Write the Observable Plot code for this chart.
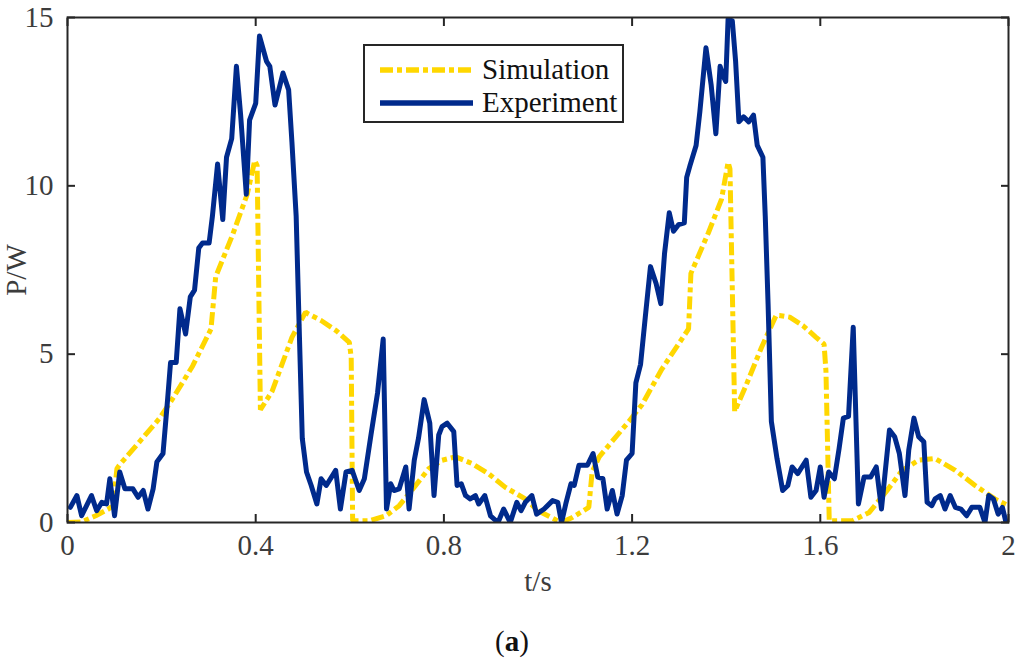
<!DOCTYPE html>
<html>
<head>
<meta charset="utf-8">
<script src="https://cdn.jsdelivr.net/npm/d3@7"></script>
<script src="https://cdn.jsdelivr.net/npm/@observablehq/plot@0.6"></script>
<style>
  body { margin: 0; background: white; }
  #wrap { position: relative; width: 1024px; height: 665px; font-family: "Liberation Serif", "Times New Roman", serif; }
  #chart svg, #chart svg text { font-family: "Liberation Serif", "Times New Roman", serif !important; }
  #legend {
    position: absolute; left: 363px; top: 44px; width: 257px; height: 75px;
    border: 2px solid #262626; background: white;
  }
  #legend svg { position: absolute; left: 0; top: 0; }
  #legend .lab { position: absolute; left: 117px; font-size: 29px; line-height: 29px; color: #111; }
  #caption { position: absolute; left: 0; top: 627px; width: 1024px; text-align: center; font-size: 29px; line-height: 29px; color: #111; }
</style>
</head>
<body>
<div id="wrap">
  <div id="chart"></div>
  <div id="legend">
    <svg width="257" height="75">
      <line x1="15" x2="108" y1="24" y2="24" stroke="#FFD700" stroke-width="5.5" stroke-dasharray="13 4 5 4"/>
      <line x1="15" x2="108" y1="57" y2="57" stroke="#002a8c" stroke-width="5.5"/>
    </svg>
    <div class="lab" style="top:9px">Simulation</div>
    <div class="lab" style="top:42px">Experiment</div>
  </div>
  <div id="caption">(<b>a</b>)</div>
</div>
<script>
// simulation curve (t in s, P in W)
const simT = [0, 0.03, 0.06, 0.087, 0.097, 0.105, 0.11, 0.15, 0.196, 0.22, 0.266, 0.305, 0.315, 0.351, 0.382, 0.398, 0.403, 0.41,
  0.435, 0.477, 0.506, 0.511, 0.539, 0.571, 0.599, 0.603, 0.606, 0.642, 0.677, 0.705, 0.737, 0.768, 0.796, 0.825, 0.86, 0.895,
  0.93, 0.973, 1.0, 1.049, 1.073, 1.108, 1.115, 1.13, 1.193, 1.221, 1.263, 1.32, 1.325, 1.362, 1.39, 1.404, 1.408, 1.418,
  1.44, 1.475, 1.506, 1.513, 1.535, 1.563, 1.591, 1.608, 1.612, 1.619, 1.668, 1.704, 1.739, 1.774, 1.809, 1.844, 1.887,
  1.929, 1.971, 2.0];
const simP = [0, 0.02, 0.2, 0.4, 0.5, 1.6, 1.7, 2.35, 3.1, 3.6, 4.65, 5.75, 7.3, 8.55, 9.75, 10.75, 10.6, 3.35,
  3.9, 5.5, 6.25, 6.2, 6.0, 5.7, 5.35, 4.9, 0.05, 0.05, 0.2, 0.5, 1.05, 1.6, 1.85, 1.95, 1.75, 1.45,
  1.05, 0.7, 0.35, 0, 0.15, 0.45, 1.5, 1.95, 3.0, 3.5, 4.55, 5.75, 7.4, 8.6, 9.6, 10.7, 10.5, 3.3,
  4.0, 5.2, 6.15, 6.15, 6.1, 5.85, 5.5, 5.3, 4.5, 0.05, 0.05, 0.3, 0.9, 1.55, 1.85, 1.9, 1.55,
  1.1, 0.7, 0.5];

// measured curve
const expT = [0.006, 0.02, 0.03, 0.051, 0.062, 0.073, 0.083, 0.09, 0.1, 0.111, 0.122, 0.139, 0.15, 0.161, 0.171, 0.182,
  0.19, 0.203, 0.213, 0.219, 0.231, 0.239, 0.251, 0.261, 0.27, 0.279, 0.287, 0.301, 0.308, 0.319, 0.33, 0.338,
  0.349, 0.359, 0.368, 0.38, 0.387, 0.4, 0.408, 0.423, 0.43, 0.441, 0.458, 0.47, 0.477, 0.486, 0.493, 0.499,
  0.508, 0.518, 0.53, 0.539, 0.55, 0.57, 0.58, 0.592, 0.605, 0.62, 0.631, 0.645, 0.659, 0.671, 0.678, 0.687,
  0.694, 0.705, 0.719, 0.726, 0.737, 0.746, 0.758, 0.77, 0.779, 0.789, 0.796, 0.807, 0.821, 0.828, 0.837, 0.846,
  0.856, 0.867, 0.874, 0.887, 0.899, 0.915, 0.927, 0.941, 0.955, 0.964, 0.973, 0.987, 0.997, 1.013, 1.031, 1.042,
  1.05, 1.059, 1.07, 1.077, 1.087, 1.105, 1.117, 1.127, 1.138, 1.147, 1.158, 1.168, 1.179, 1.188, 1.2, 1.208,
  1.218, 1.228, 1.239, 1.251, 1.261, 1.269, 1.279, 1.288, 1.299, 1.311, 1.316, 1.323, 1.336, 1.344, 1.357, 1.368,
  1.378, 1.387, 1.394, 1.399, 1.404, 1.413, 1.42, 1.427, 1.437, 1.448, 1.458, 1.466, 1.478, 1.483, 1.489, 1.496,
  1.508, 1.52, 1.531, 1.54, 1.552, 1.57, 1.58, 1.591, 1.6, 1.608, 1.618, 1.63, 1.64, 1.649, 1.66, 1.67,
  1.681, 1.693, 1.707, 1.719, 1.73, 1.739, 1.747, 1.758, 1.768, 1.78, 1.788, 1.799, 1.809, 1.82, 1.827, 1.837,
  1.844, 1.855, 1.865, 1.876, 1.887, 1.899, 1.911, 1.922, 1.939, 1.95, 1.958, 1.968, 1.978, 1.987, 1.994];
const expP = [0.45, 0.8, 0.2, 0.8, 0.35, 0.6, 0.55, 1.3, 0.2, 1.5, 1.0, 1.0, 0.75, 0.95, 0.4, 1.0,
  1.8, 2.05, 3.7, 4.75, 4.75, 6.35, 5.6, 6.7, 6.9, 8.15, 8.3, 8.3, 9.1, 10.65, 9.0, 10.85,
  11.4, 13.55, 12.1, 9.75, 11.95, 12.45, 14.45, 13.7, 13.55, 12.4, 13.35, 12.85, 11.3, 9.1, 5.5, 2.5,
  1.5, 1.1, 0.55, 1.3, 1.1, 1.55, 0.4, 1.5, 1.55, 0.95, 1.3, 2.6, 3.85, 5.45, 0.4, 1.15,
  0.95, 1.0, 1.65, 0.4, 1.85, 2.5, 3.65, 2.95, 0.8, 2.6, 2.85, 2.95, 2.7, 1.1, 1.15, 0.8,
  0.7, 0.8, 0.55, 0.8, 0.2, 0, 0.4, 0, 0.6, 0.35, 0.6, 0.8, 0.25, 0.4, 0.65, 0.6,
  0, 0.55, 1.15, 1.1, 1.7, 1.7, 2.05, 1.35, 1.3, 0.4, 0.95, 0.25, 0.8, 1.85, 2.05, 4.15,
  4.7, 6.1, 7.6, 7.1, 6.5, 8.0, 9.2, 8.65, 8.85, 8.9, 10.25, 10.6, 11.2, 12.2, 14.1, 13.0,
  11.55, 13.55, 13.25, 13.1, 14.95, 14.9, 13.7, 11.9, 12.05, 11.9, 12.1, 11.2, 10.85, 9.1, 6.5, 3.0,
  1.9, 0.95, 1.1, 1.65, 1.45, 1.85, 0.75, 0.95, 1.65, 0.75, 1.5, 1.3, 2.2, 3.1, 3.15, 5.8,
  0.55, 1.35, 1.35, 1.65, 0.4, 1.65, 2.75, 2.55, 2.05, 0.8, 2.15, 3.1, 2.55, 2.4, 0.6, 0.5,
  0.7, 0.8, 0.4, 0.8, 0.45, 0.4, 0.2, 0.45, 0.45, 0, 0.8, 0.7, 0.25, 0.45, 0.05];

const xTicks = [0, 0.4, 0.8, 1.2, 1.6, 2];
const yTicks = [0, 5, 10, 15];

const sim = simT.map((t, i) => ({t, p: simP[i]}));
const exp = expT.map((t, i) => ({t, p: expP[i]}));

const frameColor = "#262626";
const labelColor = "#3c3c3c";

let chart = Plot.plot({
  width: 1024,
  height: 600,
  marginTop: 17,
  marginLeft: 67,
  marginRight: 16,
  marginBottom: 78,
  style: {fontFamily: "'Liberation Serif', serif", fontSize: "29px", background: "white"},
  x: {domain: [0, 2]},
  y: {domain: [0, 15]},
  marks: [
    Plot.line(sim, {x: "t", y: "p", stroke: "#FFD700", strokeWidth: 5, strokeDasharray: "13 4 5 4",
      strokeLinecap: "butt", strokeLinejoin: "miter", clip: true}),
    Plot.line(exp, {x: "t", y: "p", stroke: "#002a8c", strokeWidth: 5, clip: true}),
    Plot.frame({stroke: frameColor, strokeWidth: 2}),
    // inward ticks on all four sides
    Plot.axisX(xTicks, {anchor: "bottom", tickSize: -8, stroke: frameColor, strokeWidth: 2, tickFormat: () => "", label: null}),
    Plot.axisX(xTicks, {anchor: "top", tickSize: -8, stroke: frameColor, strokeWidth: 2, tickFormat: () => "", label: null}),
    Plot.axisY(yTicks, {anchor: "left", tickSize: -8, stroke: frameColor, strokeWidth: 2, tickFormat: () => "", label: null}),
    Plot.axisY(yTicks, {anchor: "right", tickSize: -8, stroke: frameColor, strokeWidth: 2, tickFormat: () => "", label: null}),
    // tick labels and axis titles
    Plot.axisX(xTicks, {anchor: "bottom", tickSize: 0, tickPadding: 12, fill: labelColor, fontSize: 29,
      tickFormat: (d) => `${d}`,
      label: "t/s", labelAnchor: "center", labelArrow: false, labelOffset: 68}),
    Plot.axisY(yTicks, {anchor: "left", tickSize: 0, tickPadding: 14, fill: labelColor, fontSize: 29,
      tickFormat: (d) => `${d}`,
      label: "P/W", labelAnchor: "center", labelArrow: false, labelOffset: 62})
  ]
});

document.getElementById("chart").append(chart);
</script>
</body>
</html>
